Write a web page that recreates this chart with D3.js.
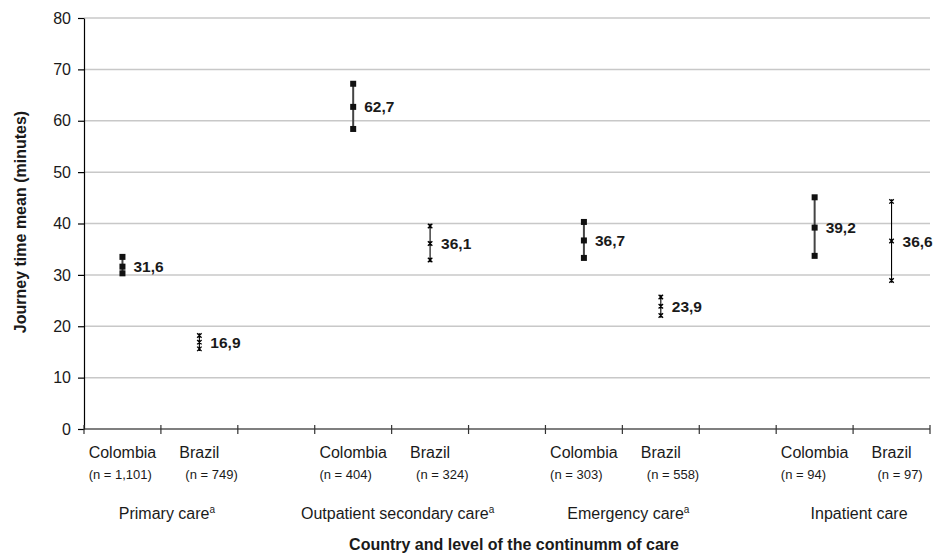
<!DOCTYPE html>
<html><head><meta charset="utf-8">
<script src="https://cdn.jsdelivr.net/npm/d3@7"></script>
<style>
body{margin:0;background:#fff;}
svg{display:block;font-family:"Liberation Sans",Arial,sans-serif;}
</style></head>
<body><svg id="c" width="934" height="553"></svg>
<script>
// ---- data ----
const slots = ["c1","b1","g1","c2","b2","g2","c3","b3","g3","c4","b4"];
const groups = ["Primary care","Outpatient secondary care","Emergency care","Inpatient care"];
const groupSup = ["a","a","a",""];
const countries = ["Colombia","Brazil"];
const colombiaN = ["(n = 1,101)","(n = 404)","(n = 303)","(n = 94)"];
const brazilN = ["(n = 749)","(n = 324)","(n = 558)","(n = 97)"];
const colombiaMean = [31.6, 62.7, 36.7, 39.2];
const colombiaUpper = [33.5, 67.2, 40.3, 45.1];
const colombiaLower = [30.3, 58.4, 33.3, 33.7];
const brazilMean = [16.9, 36.1, 23.9, 36.6];
const brazilUpper = [18.2, 39.5, 25.7, 44.3];
const brazilLower = [15.6, 32.9, 22.1, 28.9];
const yTicks = [0,10,20,30,40,50,60,70,80];

const TXT = "#1a1a1a";
const svg = d3.select("#c");
const M = {l:84, r:930, t:18, b:429};
const x = d3.scaleBand().domain(slots).range([M.l, M.r]);
const y = d3.scaleLinear().domain([0,80]).range([M.b, M.t]);
const fmt = v => d3.format(".1f")(v).replace(".", ",");

// grid
svg.append("g").selectAll("line").data(yTicks.filter(d=>d>0)).join("line")
  .attr("x1", M.l).attr("x2", M.r).attr("y1", d=>y(d)).attr("y2", d=>y(d))
  .attr("stroke", "#c8c8c8").attr("stroke-width", 1.5);

// y axis
const ya = svg.append("g").attr("transform", `translate(${M.l},0)`)
  .call(d3.axisLeft(y).tickValues(yTicks).tickSize(6).tickPadding(7).tickSizeOuter(0));
ya.select(".domain").attr("stroke", "#000").attr("stroke-width", 1.2);
ya.selectAll(".tick line").attr("stroke", "#000").attr("stroke-width", 1.2);
ya.selectAll(".tick text").attr("font-size", 16).attr("fill", TXT)
  .attr("font-family", "Liberation Sans, Arial, sans-serif");

// x axis line with boundary ticks
svg.append("line").attr("x1", M.l).attr("x2", M.r).attr("y1", M.b).attr("y2", M.b)
  .attr("stroke", "#000").attr("stroke-width", 1.2);
const bounds = slots.map(s => x(s)).concat([x(slots[slots.length-1]) + x.bandwidth()]);
svg.append("g").selectAll("line").data(bounds).join("line")
  .attr("x1", d=>d).attr("x2", d=>d).attr("y1", M.b-4).attr("y2", M.b+5)
  .attr("stroke", "#333").attr("stroke-width", 1.2);

const cx = i => x("c"+(i+1)) + x.bandwidth()/2;
const bx = i => x("b"+(i+1)) + x.bandwidth()/2;

// category labels
groups.forEach((g, i) => {
  const ct = svg.append("text").attr("x", cx(i)).attr("y", 458).attr("text-anchor", "middle")
    .attr("font-size", 16).attr("fill", TXT).text(countries[0]);
  const cw = ct.node().getComputedTextLength();
  svg.append("text").attr("x", cx(i) - cw/2).attr("y", 479)
    .attr("font-size", 13).attr("fill", TXT).text(colombiaN[i]);
  const bt = svg.append("text").attr("x", bx(i)).attr("y", 458).attr("text-anchor", "middle")
    .attr("font-size", 16).attr("fill", TXT).text(countries[1]);
  const bw = bt.node().getComputedTextLength();
  svg.append("text").attr("x", bx(i) - bw/2 + 6).attr("y", 479)
    .attr("font-size", 13).attr("fill", TXT).text(brazilN[i]);
  const gt = svg.append("text").attr("x", (cx(i)+bx(i))/2 + 6).attr("y", 519)
    .attr("text-anchor", "middle").attr("font-size", 16).attr("fill", TXT);
  gt.append("tspan").text(groups[i]);
  if (groupSup[i]) gt.append("tspan").attr("font-size", 10).attr("dy", -6).text(groupSup[i]);
});

// axis titles
svg.append("text").attr("x", 514).attr("y", 550).attr("text-anchor", "middle")
  .attr("font-size", 16).attr("font-weight", "bold").attr("fill", TXT)
  .text("Country and level of the continumm of care");
svg.append("text").attr("transform", "translate(26,222) rotate(-90)")
  .attr("text-anchor", "middle").attr("font-size", 16).attr("font-weight", "bold").attr("fill", TXT)
  .text("Journey time mean (minutes)");

// Colombia series
const col = svg.append("g");
groups.forEach((g, i) => {
  const X = cx(i);
  col.append("line").attr("x1", X).attr("x2", X)
    .attr("y1", y(colombiaUpper[i])).attr("y2", y(colombiaLower[i]))
    .attr("stroke", "#444").attr("stroke-width", 2);
  [colombiaUpper[i], colombiaMean[i], colombiaLower[i]].forEach(v => {
    col.append("rect").attr("x", X-3).attr("y", y(v)-3).attr("width", 6).attr("height", 6).attr("fill", "#111");
  });
  col.append("text").attr("x", X+11).attr("y", y(colombiaMean[i])).attr("dy", "0.36em")
    .attr("font-size", 15.5).attr("font-weight", "bold").attr("fill", TXT).text(fmt(colombiaMean[i]));
});

// Brazil series: star marker (x plus vertical stroke)
const starType = { draw(ctx, size) {
  const r = Math.sqrt(size) / 2;
  ctx.moveTo(-r, -r); ctx.lineTo(r, r);
  ctx.moveTo(r, -r); ctx.lineTo(-r, r);
  ctx.moveTo(0, -r); ctx.lineTo(0, r);
}};
const star = d3.symbol().type(starType).size(20);
const br = svg.append("g");
groups.forEach((g, i) => {
  const X = bx(i);
  br.append("line").attr("x1", X).attr("x2", X)
    .attr("y1", y(brazilUpper[i])).attr("y2", y(brazilLower[i]))
    .attr("stroke", "#000").attr("stroke-width", 1.1);
  [brazilUpper[i], brazilMean[i], brazilLower[i]].forEach(v => {
    br.append("path").attr("d", star()).attr("transform", `translate(${X},${y(v)})`)
      .attr("stroke", "#000").attr("stroke-width", 1.3).attr("fill", "none");
  });
  br.append("text").attr("x", X+11).attr("y", y(brazilMean[i])).attr("dy", "0.36em")
    .attr("font-size", 15.5).attr("font-weight", "bold").attr("fill", TXT).text(fmt(brazilMean[i]));
});
</script></body></html>
